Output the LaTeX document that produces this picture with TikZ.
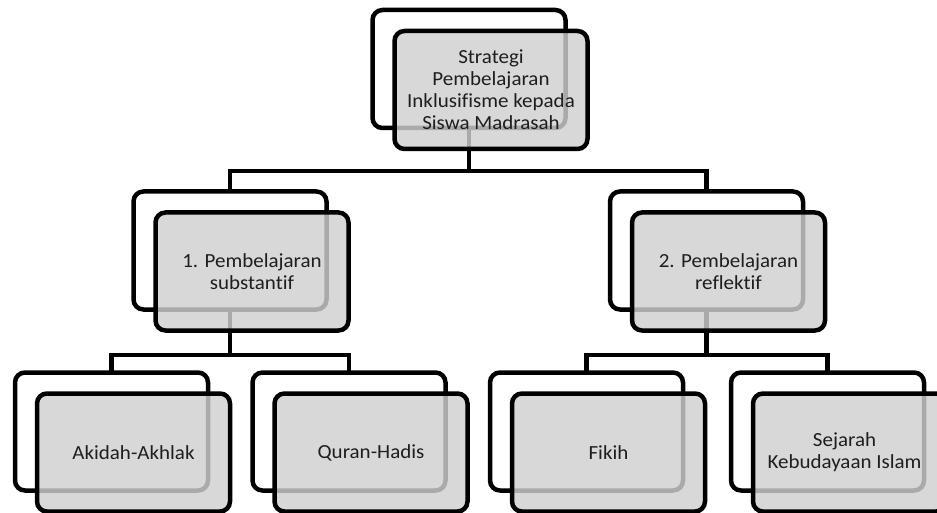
\documentclass[tikz,border=0pt]{standalone}
\usepackage{fontspec}
\setmainfont{Carlito}[FakeStretch=1.05, Ligatures=NoCommon]
\usepackage{tikz}
\usetikzlibrary{positioning, calc}
\definecolor{box-gray}{HTML}{D0D0D0}
\definecolor{txt-gray}{HTML}{1E1E1E}

\begin{document}
\begin{tikzpicture}[x=1pt, y=-1pt,
    backbox/.style={draw, line width=4.5pt, rounded corners=10pt, fill=white, minimum width=193pt, minimum height=118pt, outer sep=0pt},
    frontbox/.style={backbox, fill=box-gray, fill opacity=0.82, text opacity=1, text=txt-gray, align=center, font=\fontsize{20}{22}\selectfont},
    link/.style={line width=4.5pt}
]
    \clip (0,0) rectangle (937,513);

    % Back boxes
    \node (top) [backbox] at (469,69) {};
    \node (sub) [backbox] at (230,250.5) {};
    \node (ref) [backbox] at (706.5,250.5) {};
    \node (aki) [backbox] at (111.5,431.5) {};
    \node (qur) [backbox] at (349,431.5) {};
    \node (fik) [backbox] at (586.5,431.5) {};
    \node (skb) [backbox] at (827.5,431.5) {};

    % Connectors
    \draw[link] (top.south) -- ++(0,43) -| (sub.north);
    \draw[link] (top.south) -- ++(0,43) -| (ref.north);
    \draw[link] (sub.south) -- ++(0,45.5) -| (aki.north);
    \draw[link] (sub.south) -- ++(0,45.5) -| (qur.north);
    \draw[link] (ref.south) -- ++(0,45.5) -| (fik.north);
    \draw[link] (ref.south) -- ++(0,45.5) -| (skb.north);

    % Front boxes
    \node (topF) [frontbox] at ($(top)+(22,21)$) {Strategi\\Pembelajaran\\Inklusifisme kepada\\Siswa Madrasah};
    \node (subF) [frontbox] at ($(sub)+(22,21)$) {1. Pembelajaran\\substantif};
    \node (refF) [frontbox] at ($(ref)+(22,21)$) {2. Pembelajaran\\reflektif};
    \node (akiF) [frontbox] at ($(aki)+(22,21)$) {Akidah-Akhlak};
    \node (qurF) [frontbox] at ($(qur)+(22,21)$) {Quran-Hadis};
    \node (fikF) [frontbox] at ($(fik)+(22,21)$) {Fikih};
    \node (skbF) [frontbox] at ($(skb)+(22,21)$) {Sejarah\hspace*{10pt}\\Kebudayaan Islam\hspace*{10pt}};
\end{tikzpicture}
\end{document}
